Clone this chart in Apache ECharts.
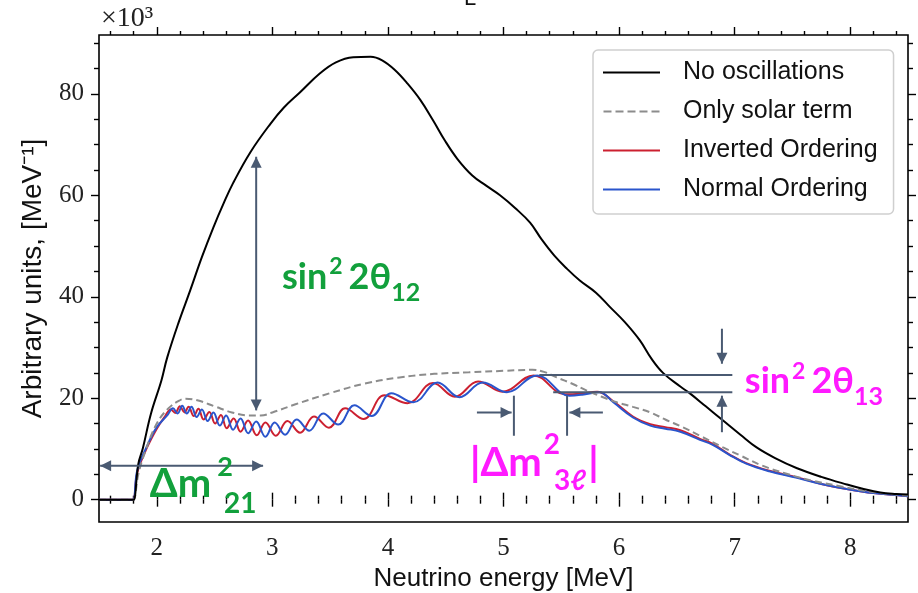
<!DOCTYPE html>
<html>
<head>
<meta charset="utf-8">
<script src="https://cdn.jsdelivr.net/npm/echarts@6/dist/echarts.min.js"></script>
<style>
  html, body { margin: 0; padding: 0; background: #fff; }
  #chart { width: 918px; height: 593px; }
</style>
</head>
<body>
<div id="chart"></div>
<script>
// Reactor antineutrino spectrum (arbitrary units, x10^3 per MeV) versus energy.
const noOscE = [1.5, 1.79, 1.8, 1.84, 1.88, 1.95, 2.04, 2.09, 2.19, 2.29, 2.39, 2.49, 2.58, 2.66, 2.81, 2.98, 3.1, 3.24, 3.41, 3.55, 3.7, 3.85, 3.95, 4.06, 4.17, 4.28, 4.39, 4.49, 4.6, 4.73, 4.85, 4.97, 5.1, 5.23, 5.33, 5.44, 5.55, 5.66, 5.8, 5.92, 6.05, 6.18, 6.28, 6.38, 6.53, 6.61, 6.75, 6.9, 7.05, 7.19, 7.35, 7.54, 7.75, 7.97, 8.1, 8.26, 8.4, 8.5];
const noOscY = [0, 0, 0, 7, 10.2, 17, 23.5, 28, 35, 41.3, 47.8, 53.7, 58.5, 62.4, 68.5, 74, 77.3, 80.3, 84, 86.2, 87.2, 87.3, 86.6, 84.7, 82, 78.8, 74.8, 70.9, 67.2, 63.9, 61.9, 60, 57.5, 54.6, 51.3, 48.1, 45.5, 43.2, 40.8, 38, 35, 31.4, 27.8, 25.0, 22.3, 21.0, 18.4, 15.6, 12.8, 10.3, 8.2, 6.2, 4.5, 3.0, 2.2, 1.4, 1.1, 1.0];

const solarE = [1.5, 1.79, 1.8, 1.84, 1.9, 2.0, 2.1, 2.2, 2.25, 2.35, 2.5, 2.65, 2.8, 2.9, 3.0, 3.2, 3.5, 3.8, 4.1, 4.4, 4.7, 5.0, 5.25, 5.35, 5.46, 5.6, 5.72, 5.85, 5.98, 6.12, 6.27, 6.4, 6.55, 6.7, 6.9, 7.05, 7.24, 7.45, 7.68, 7.9, 8.11, 8.3, 8.5];
const solarY = [0, 0, 0, 5, 9.5, 15, 18, 19.6, 19.9, 19.6, 18.4, 17.2, 16.6, 16.6, 17.2, 18.8, 21.0, 22.9, 24.1, 24.8, 25.1, 25.4, 25.6, 25.2, 24.1, 22.8, 21.5, 20.3, 19.2, 18.3, 17.2, 15.8, 14.3, 12.6, 10.3, 8.7, 6.7, 5.1, 3.7, 2.7, 1.8, 1.2, 0.8];

const invertedE = [1.5, 1.79, 1.8, 1.83, 1.91, 2.0, 2.07, 2.12, 2.16, 2.20, 2.24, 2.275, 2.32, 2.36, 2.405, 2.455, 2.505, 2.555, 2.605, 2.665, 2.725, 2.79, 2.865, 2.94, 3.03, 3.13, 3.24, 3.36, 3.49, 3.63, 3.79, 3.97, 4.17, 4.39, 4.58, 4.78, 4.99, 5.26, 5.53, 5.66, 5.81, 5.95, 6.12, 6.27, 6.40, 6.53, 6.70, 6.81, 6.95, 7.1, 7.3, 7.54, 7.75, 7.97, 8.2, 8.5];
const invertedY = [0, 0, 0, 5.2, 10.0, 14.0, 16.4, 17.8, 17.1, 18.4, 17.2, 18.3, 16.5, 17.9, 15.8, 17.3, 15.0, 16.7, 14.1, 16.0, 13.4, 15.6, 12.7, 15.2, 12.6, 15.5, 13.2, 16.4, 14.2, 18.0, 15.9, 20.6, 19.0, 23.0, 20.3, 23.3, 21.3, 24.5, 20.8, 20.9, 21.3, 19.4, 16.4, 14.9, 14.3, 13.7, 12.0, 11.0, 9.0, 7.2, 5.7, 4.4, 3.1, 2.1, 1.3, 0.7];

const normalE = [1.5, 1.79, 1.8, 1.83, 1.91, 2.0, 2.09, 2.14, 2.18, 2.22, 2.26, 2.30, 2.345, 2.39, 2.44, 2.49, 2.545, 2.60, 2.66, 2.725, 2.79, 2.86, 2.94, 3.02, 3.11, 3.21, 3.32, 3.44, 3.57, 3.71, 3.86, 4.03, 4.22, 4.43, 4.62, 4.82, 5.03, 5.29, 5.57, 5.68, 5.83, 5.95, 6.12, 6.27, 6.40, 6.53, 6.70, 6.81, 6.95, 7.1, 7.3, 7.54, 7.75, 7.97, 8.2, 8.5];
const normalY = [0, 0, 0, 5.7, 10.3, 14.3, 16.6, 18.0, 17.0, 18.5, 17.0, 18.3, 16.3, 17.8, 15.5, 17.2, 14.6, 16.6, 13.8, 16.0, 13.1, 15.4, 12.4, 15.2, 12.8, 15.8, 13.6, 17.0, 14.8, 18.6, 16.5, 21.0, 19.2, 23.1, 20.2, 23.1, 21.2, 24.5, 20.5, 20.7, 21.2, 19.2, 16.2, 14.6, 14.0, 13.4, 11.8, 10.8, 8.9, 7.1, 5.6, 4.3, 3.1, 2.1, 1.3, 0.7];

const seriesNames = ['No oscillations', 'Only solar term', 'Inverted Ordering', 'Normal Ordering'];
const xMajorTicks = [2, 3, 4, 5, 6, 7, 8];
const yMajorTicks = [0, 20, 40, 60, 80];

const xMinorTicks = [];
for (let k = 8; k <= 42; k++) { if (k % 5 !== 0) xMinorTicks.push(k / 5); }
const yMinorTicks = [];
for (let v = 5; v <= 90; v += 5) { if (v % 20 !== 0) yMinorTicks.push(v); }

const zip = (xs, ys) => xs.map((x, i) => [x, ys[i]]);

const chart = echarts.init(document.getElementById('chart'), null, { renderer: 'canvas' });

const serif = '"Liberation Serif", "DejaVu Serif", serif';
const sans = '"Liberation Sans", Arial, sans-serif';
const X_MIN = 1.5, X_MAX = 8.5, Y_MIN = -4.4, Y_MAX = 91.6;

function xAx(position, ticks, len, inside, extra) {
  return Object.assign({
    type: 'value', min: X_MIN, max: X_MAX, position: position,
    axisLine: { show: false },
    axisTick: { show: true, customValues: ticks, length: len, inside: inside, lineStyle: { color: '#000', width: 1.4 } },
    axisLabel: { show: false },
    splitLine: { show: false }
  }, extra || {});
}
function yAx(position, ticks, len, extra) {
  return Object.assign({
    type: 'value', min: Y_MIN, max: Y_MAX, position: position,
    axisLine: { show: false },
    axisTick: { show: true, customValues: ticks, length: len, lineStyle: { color: '#000', width: 1.4 } },
    axisLabel: { show: false },
    splitLine: { show: false }
  }, extra || {});
}

// legend glyphs: a solid stroke and a five-dash stroke
const solidIcon = 'path://M0 0H57V2H0Z';
const dashIcon = 'path://M0 0H8V2H0Z M12 0H20V2H12Z M24 0H32V2H24Z M36 0H44V2H36Z M48 0H56V2H48Z';

const lineBase = { type: 'line', showSymbol: false, symbol: 'none', smooth: 0.4, xAxisIndex: 0, yAxisIndex: 0, animation: false };

chart.setOption({
  animation: false,
  backgroundColor: '#fff',
  grid: {
    left: 99, right: 10, top: 35, bottom: 71, containLabel: false, outerBoundsMode: 'none',
    show: true, borderColor: '#000', borderWidth: 1.6, backgroundColor: 'transparent'
  },
  xAxis: [
    xAx('bottom', xMajorTicks, 7, false, {
      axisLabel: { show: true, customValues: xMajorTicks, fontFamily: serif, fontSize: 25, color: '#222', margin: 14 },
      name: 'Neutrino energy [MeV]', nameLocation: 'middle', nameGap: 44,
      nameTextStyle: { fontFamily: sans, fontSize: 26, color: '#111' }
    }),
    xAx('bottom', xMinorTicks, 4, false),
    xAx('bottom', xMajorTicks, 7, true),
    xAx('bottom', xMinorTicks, 4, true),
    xAx('top', xMajorTicks, 8, false),
    xAx('top', xMinorTicks, 4, false)
  ],
  yAxis: [
    yAx('left', yMajorTicks, 8, {
      axisLabel: { show: true, customValues: yMajorTicks, fontFamily: serif, fontSize: 25, color: '#222', margin: 15 },
      name: 'Arbitrary units, [MeV\u207B\u00B9]', nameLocation: 'middle', nameGap: 52,
      nameTextStyle: { fontFamily: sans, fontSize: 28, color: '#111' }
    }),
    yAx('left', yMinorTicks, 5),
    yAx('right', yMajorTicks, 8),
    yAx('right', yMinorTicks, 5)
  ],
  legend: {
    orient: 'vertical', left: 593, top: 50,
    padding: [10, 16, 12, 10], itemGap: 14, itemWidth: 57, itemHeight: 2,
    backgroundColor: 'rgba(255,255,255,0.85)', borderColor: '#cfcfcf', borderWidth: 1.5, borderRadius: 5,
    textStyle: { fontFamily: sans, fontSize: 25, color: '#111', lineHeight: 25, padding: [0, 0, 0, 18] },
    data: [
      { name: seriesNames[0], icon: solidIcon },
      { name: seriesNames[1], icon: dashIcon },
      { name: seriesNames[2], icon: solidIcon },
      { name: seriesNames[3], icon: solidIcon }
    ]
  },
  series: [
    Object.assign({}, lineBase, { name: seriesNames[0], data: zip(noOscE, noOscY), lineStyle: { color: '#000', width: 2 }, itemStyle: { color: '#000' }, z: 5 }),
    Object.assign({}, lineBase, { name: seriesNames[1], data: zip(solarE, solarY), lineStyle: { color: '#8c8c8c', width: 2, type: [7, 4] }, itemStyle: { color: '#8c8c8c' }, z: 4 }),
    Object.assign({}, lineBase, { name: seriesNames[2], data: zip(invertedE, invertedY), lineStyle: { color: '#cc2030', width: 2 }, itemStyle: { color: '#cc2030' }, z: 3 }),
    Object.assign({}, lineBase, { name: seriesNames[3], data: zip(normalE, normalY), lineStyle: { color: '#2a55cc', width: 2 }, itemStyle: { color: '#2a55cc' }, z: 3 })
  ]
});

// ---- annotations: arrows, guide lines and labels placed in data coordinates ----
const ink = '#4a5a72';
const green = '#12a03c';
const magenta = '#ff1aff';
const labelFont = 'Lato, "Noto Sans", "DejaVu Sans", sans-serif';

const P = (x, y) => chart.convertToPixel({ gridIndex: 0 }, [x, y]);
const graphics = [];

function seg(a, b) {
  graphics.push({ type: 'line', shape: { x1: a[0], y1: a[1], x2: b[0], y2: b[1] }, style: { stroke: ink, lineWidth: 2 }, z: 50, silent: true });
}
function head(tip, from) {
  const dx = tip[0] - from[0], dy = tip[1] - from[1];
  const L = Math.hypot(dx, dy) || 1;
  const ux = dx / L, uy = dy / L, len = 11, w = 5.5;
  const bx = tip[0] - ux * len, by = tip[1] - uy * len;
  graphics.push({ type: 'polygon', shape: { points: [tip, [bx - uy * w, by + ux * w], [bx + uy * w, by - ux * w]] }, style: { fill: ink }, z: 51, silent: true });
}
function arrow(from, tip, both) {
  const a = P(from[0], from[1]), b = P(tip[0], tip[1]);
  seg(a, b); head(b, a); if (both) head(a, b);
}
function rule(p, q) { seg(P(p[0], p[1]), P(q[0], q[1])); }

// parts: text pieces laid out left to right; rise shifts a piece's baseline up (px)
const measure = document.createElement('canvas').getContext('2d');
function formula(anchor, parts, color) {
  const o = P(anchor[0], anchor[1]);
  let x = o[0];
  parts.forEach(p => {
    const font = 'bold ' + p.size + 'px ' + labelFont;
    measure.font = font;
    x += (p.gap || 0);
    const base = o[1] - (p.rise || 0);
    graphics.push({ type: 'text', x: x, y: base - 0.32 * p.size, style: { text: p.t, font: font, fill: color, align: 'left', verticalAlign: 'middle' }, z: 60, silent: true });
    x += measure.measureText(p.t).width;
  });
}

// solar mixing amplitude
arrow([2.86, 17.6], [2.86, 67.6], true);
formula([3.083, 41.5], [
  { t: 'sin', size: 36 }, { t: '2', size: 23, rise: 15, gap: 2 },
  { t: '2\u03B8', size: 36, gap: 6 }, { t: '12', size: 25, rise: -12 }
], green);

// solar oscillation onset
arrow([1.51, 6.7], [2.92, 6.7], true);
formula([1.94, 0.47], [
  { t: '\u0394m', size: 40 }, { t: '2', size: 27, rise: 21, gap: 6 },
  { t: '21', size: 28, rise: -16, gap: -9 }
], green);

// fast oscillation period
rule([5.09, 12.6], [5.09, 20.5]);
rule([5.55, 12.6], [5.55, 20.5]);
arrow([4.77, 17.2], [5.07, 17.2], false);
arrow([5.86, 17.2], [5.57, 17.2], false);
formula([4.71, 4.6], [
  { t: '|\u0394m', size: 40 }, { t: '2', size: 28, rise: 22, gap: 2 },
  { t: '3\u2113', size: 28, rise: -14, gap: -6 }, { t: '|', size: 40, gap: 2 }
], magenta);

// reactor mixing amplitude
rule([5.31, 24.6], [6.98, 24.6]);
rule([5.43, 21.2], [6.98, 21.2]);
arrow([6.89, 33.7], [6.89, 26.8], false);
arrow([6.89, 13.3], [6.89, 20.5], false);
formula([7.088, 21.0], [
  { t: 'sin', size: 36 }, { t: '2', size: 23, rise: 14, gap: 2 },
  { t: '2\u03B8', size: 36, gap: 6 }, { t: '13', size: 25, rise: -12 }
], magenta);

// axis multiplier and clipped heading fragment
graphics.push({ type: 'text', left: 101, top: 5, style: { text: '\u00D710\u00B3', font: '28px ' + serif, fill: '#222' }, z: 60, silent: true });
graphics.push({ type: 'text', x: 464, y: 10, style: { text: 'L', font: '22px ' + sans, fill: '#111', verticalAlign: 'bottom' }, z: 60, silent: true });

chart.setOption({ graphic: graphics });
</script>
</body>
</html>
